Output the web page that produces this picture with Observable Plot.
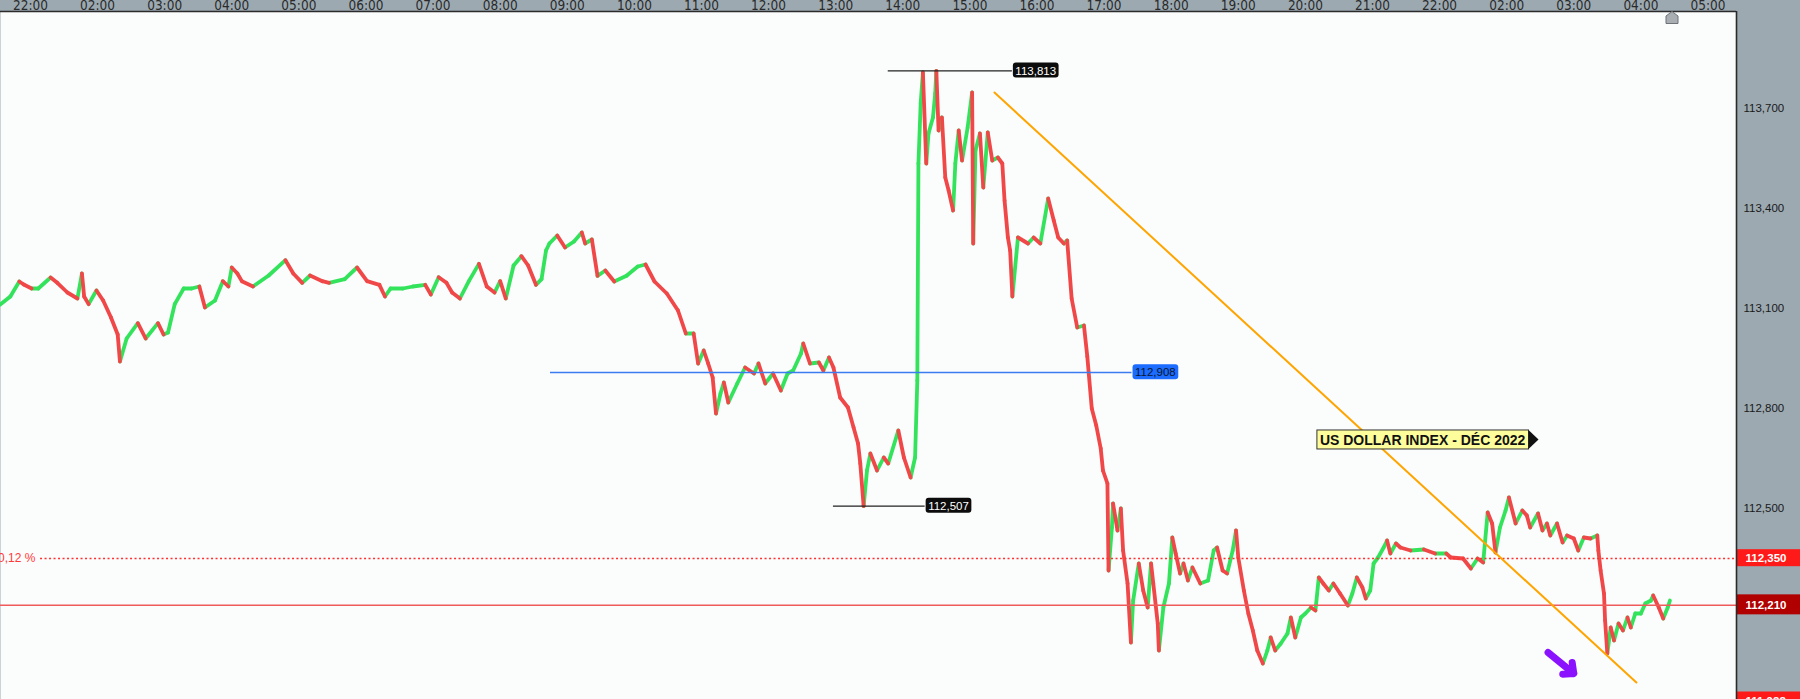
<!DOCTYPE html>
<html><head><meta charset="utf-8">
<script src="https://cdn.jsdelivr.net/npm/d3@7"></script>
<script src="https://cdn.jsdelivr.net/npm/@observablehq/plot@0.6"></script>
<style>
html,body{margin:0;padding:0;background:#9ca9b1;overflow:hidden}
#chart svg{display:block}
</style></head><body><div id="chart"></div>
<script>
// ---- data (session minutes from the 22:00 tick, price) ----
const minutes = [-27,-18,-10,-6,1,7,18,24,33,42,46,48,52,59,65,72,78,80,86,96,103,114,119,123,129,137,144,151,156,165,172,177,180,185,189,199,213,228,235,243,250,261,267,281,292,301,312,317,322,333,342,353,358,365,372,377,384,392,401,408,415,420,425,432,439,445,452,457,461,464,471,478,486,493,496,502,507,514,522,533,543,550,558,569,579,586,593,597,602,606,610,613,617,620,624,632,639,647,651,657,664,671,677,682,689,691,697,705,709,714,718,724,731,736,740,742,745,748,751,757,763,767,776,781,787,791,793,794,796,798,801,803,807,809,810,812,815,818,821,825,827,830,833,838,842,843,845,849,852,856,860,865,869,871,874,876,878,883,892,897,903,910,915,919,924,927,931,936,942,945,949,953,957,959,963,964,967,968,972,975,977,981,984,986,991,995,999,1002,1004,1008,1009,1013,1018,1021,1024,1028,1031,1035,1039,1046,1053,1058,1061,1066,1070,1075,1078,1080,1085,1089,1093,1097,1102,1106,1109,1113,1118,1124,1127,1131,1136,1140,1145,1149,1152,1156,1161,1165,1171,1178,1182,1186,1191,1194,1198,1201,1205,1210,1213,1216,1221,1225,1234,1246,1256,1266,1270,1281,1288,1294,1299,1303,1307,1310,1314,1319,1322,1328,1334,1338,1341,1348,1352,1356,1359,1365,1370,1374,1380,1384,1389,1395,1401,1402,1404,1407,1408,1410,1413,1416,1420,1424,1428,1431,1435,1440,1444,1449,1451,1456,1460,1464,1466];
const prices = [113.112,113.136,113.181,113.172,113.160,113.160,113.193,113.177,113.148,113.130,113.205,113.136,113.113,113.154,113.124,113.073,113.022,112.941,113.010,113.056,113.010,113.056,113.022,113.028,113.113,113.160,113.160,113.166,113.103,113.124,113.182,113.166,113.223,113.205,113.182,113.166,113.199,113.245,113.205,113.177,113.199,113.182,113.177,113.188,113.223,113.182,113.171,113.136,113.160,113.160,113.166,113.171,113.142,113.194,113.177,113.148,113.130,113.182,113.234,113.166,113.148,113.182,113.130,113.229,113.257,113.229,113.171,113.188,113.274,113.295,113.319,113.283,113.301,113.328,113.295,113.307,113.198,113.214,113.181,113.198,113.226,113.232,113.181,113.145,113.094,113.025,113.025,112.935,112.974,112.935,112.893,112.785,112.845,112.878,112.818,112.875,112.923,112.905,112.935,112.875,112.905,112.854,112.905,112.914,112.965,112.995,112.935,112.938,112.914,112.953,112.923,112.833,112.803,112.743,112.695,112.635,112.507,112.614,112.665,112.614,112.653,112.635,112.734,112.653,112.593,112.653,112.884,113.535,113.715,113.808,113.535,113.625,113.673,113.745,113.813,113.634,113.673,113.493,113.454,113.394,113.535,113.634,113.544,113.643,113.748,113.295,113.574,113.625,113.463,113.628,113.544,113.553,113.535,113.424,113.313,113.274,113.136,113.313,113.295,113.313,113.295,113.430,113.364,113.313,113.295,113.304,113.130,113.043,113.049,112.956,112.800,112.749,112.680,112.614,112.575,112.314,112.443,112.515,112.434,112.500,112.374,112.275,112.098,112.224,112.335,112.254,112.203,112.335,112.275,112.155,112.074,112.203,112.275,112.413,112.365,112.305,112.335,112.284,112.323,112.275,112.284,112.374,112.383,112.314,112.305,112.374,112.434,112.353,112.254,112.185,112.134,112.074,112.035,112.074,112.113,112.074,112.095,112.125,112.173,112.113,112.173,112.185,112.203,112.194,112.293,112.275,112.254,112.275,112.245,112.209,112.245,112.293,112.263,112.230,112.254,112.335,112.353,112.383,112.404,112.365,112.395,112.383,112.374,112.377,112.365,112.365,112.353,112.350,112.320,112.350,112.338,112.488,112.455,112.368,112.443,112.494,112.533,112.455,112.494,112.479,112.443,112.485,112.434,112.455,112.419,112.455,112.398,112.419,112.410,112.374,112.413,112.410,112.419,112.374,112.314,112.245,112.164,112.065,112.143,112.104,112.155,112.134,112.173,112.143,112.185,112.185,112.215,112.224,112.239,112.203,112.170,112.203,112.224];

const tickMinutes = [0,60,120,180,240,300,360,420,480,540,600,660,720,780,840,900,960,1020,1080,1140,1200,1260,1320,1380,1440,1500];
const tickLabels = ["22:00","02:00","03:00","04:00","05:00","06:00","07:00","08:00","09:00","10:00","11:00","12:00","13:00","14:00","15:00","16:00","17:00","18:00","19:00","20:00","21:00","22:00","02:00","03:00","04:00","05:00"];
const axisTicks = [113.7, 113.4, 113.1, 112.8, 112.5];

// marked levels: high, pivot, low
const levelValues = [113.813, 112.908, 112.507];
const levelStart = [767, 465, 718];
const levelEnd = [878, 985, 800];

// previous close (dotted) and last price (solid)
const prevClose = 112.350;
const lastPrice = 112.210;
const sessionLow = 111.923;
const changeLabel = "0,12 %";
const changeStart = 9;

// trend line
const trendMinutes = [862, 1436];
const trendPrices = [113.748, 111.978];

// annotation
const titleText = "US DOLLAR INDEX - DÉC 2022";
const titleAt = {m: 1153, v: 112.704};
const arrowFrom = {m: 1357, v: 112.068};
const arrowTo = {m: 1380, v: 112.005};

// ---- build ----
const fmt = d => d.toFixed(3).replace(".", ",");
const GREEN = "#34e35c", RED = "#f04848";
const segs = d3.pairs(d3.zip(minutes, prices)).map(([[m0, v0], [m1, v1]]) => ({m0, m1, v0, v1, up: v1 >= v0}));
const levels = levelValues.map((v, i) => ({v, m0: levelStart[i], m1: levelEnd[i], label: fmt(v)}));
const trend = trendMinutes.map((m, i) => ({m, v: trendPrices[i]}));
const ticks = tickMinutes.map((m, i) => ({m, label: tickLabels[i]}));

const narrow = "'Liberation Sans Narrow','DejaVu Sans Condensed','Arial Narrow',sans-serif";
const XMAX = 1525.5;

const chart = Plot.plot({
  width: 1800, height: 699,
  marginTop: 11, marginRight: 64, marginBottom: 0, marginLeft: 0,
  x: {domain: [-26.8, XMAX], axis: null},
  y: {domain: [111.927, 113.991], axis: null},
  style: {background: "#9ca9b1", fontFamily: "'Liberation Sans',Arial,sans-serif", overflow: "visible"},
  marks: [
    Plot.frame({fill: "#fbfcfc", stroke: null}),
    // price path, coloured by direction
    Plot.link(segs.filter(d => d.up), {x1: "m0", x2: "m1", y1: "v0", y2: "v1", stroke: GREEN, strokeWidth: 3.8, strokeLinecap: "round"}),
    Plot.link(segs.filter(d => !d.up), {x1: "m0", x2: "m1", y1: "v0", y2: "v1", stroke: RED, strokeWidth: 3.8, strokeLinecap: "round"}),
    // level lines
    Plot.ruleY([prevClose], {x1: changeStart, x2: XMAX, stroke: "#ff3030", strokeWidth: 1.3, strokeDasharray: "2,2.5"}),
    Plot.ruleY([lastPrice], {stroke: "#ef5b5b", strokeWidth: 1.5}),
    Plot.ruleY([levels[0], levels[2]], {y: "v", x1: "m0", x2: "m1", stroke: "#222", strokeWidth: 1.2}),
    Plot.ruleY([levels[1]], {y: "v", x1: "m0", x2: "m1", stroke: "#3b7cf0", strokeWidth: 1.5}),
    // trend line
    Plot.line(trend, {x: "m", y: "v", stroke: "#ffa500", strokeWidth: 2}),
    // arrow
    Plot.arrow([0], {x1: () => arrowFrom.m, y1: () => arrowFrom.v, x2: () => arrowTo.m, y2: () => arrowTo.v, stroke: "#8a12ff", strokeWidth: 7, headLength: 12, headAngle: 85}),
    // tags on level lines
    Plot.text([levels[0], levels[2]], {x: "m1", y: "v", text: "label", textAnchor: "start", dx: 3, fill: "white", fontSize: 11.5}),
    Plot.text([levels[1]], {x: "m1", y: "v", text: "label", textAnchor: "start", dx: 3, fill: "#0a1630", fontSize: 11.5}),
    // change label
    Plot.text([prevClose], {x: () => -29, y: d => d, text: () => changeLabel, textAnchor: "start", fill: "#ff3a3a", fontSize: 12}),
    // title annotation
    Plot.text([titleAt], {x: "m", y: "v", text: () => titleText, textAnchor: "start", fontWeight: "bold", fontSize: 14, fill: "#111"}),
    // axes
    Plot.text(ticks, {x: "m", text: "label", frameAnchor: "top", dy: -2, lineAnchor: "bottom", fontSize: 13.5, fill: "#2a2a2a", fontFamily: narrow}),
    Plot.text(axisTicks, {y: d => d, text: fmt, frameAnchor: "right", dx: 7, textAnchor: "start", fontSize: 11.5, fill: "#1a1a1a"}),
    Plot.text([prevClose, lastPrice, sessionLow], {y: d => d, text: fmt, frameAnchor: "right", dx: 9, textAnchor: "start", fontSize: 11.5, fontWeight: "bold", fill: "white"}),
    // borders
    Plot.ruleY([113.991], {stroke: "#2b2b2b", strokeWidth: 1.6}),
    Plot.ruleX([XMAX], {stroke: "#2b2b2b", strokeWidth: 1.6})
  ]
});
document.getElementById("chart").appendChild(chart);

// ---- label boxes, matched by their text ----
const NS = "http://www.w3.org/2000/svg";
const svgBox = chart.getBoundingClientRect();
const boxStyles = new Map([
  [fmt(levelValues[0]), {px: 2.5, h: 15, rx: 3, fill: "#0c0c0c"}],
  [fmt(levelValues[2]), {px: 2.5, h: 15, rx: 3, fill: "#0c0c0c"}],
  [fmt(levelValues[1]), {px: 2.5, h: 15, rx: 3, fill: "#1c6cff"}],
  [titleText, {px: 3, h: 19, fill: "#fdfd9c", stroke: "#333", arrow: true}],
  [fmt(prevClose), {full: [1737, 63], h: 17, fill: "#ff1a1a"}],
  [fmt(sessionLow), {full: [1737, 63], h: 17, fill: "#ff1a1a"}],
  [fmt(lastPrice), {full: [1737, 63], h: 20, fill: "#b00000"}]
]);
chart.querySelectorAll("text").forEach(t => {
  const style = boxStyles.get(t.textContent.trim());
  if (!style) return;
  const b = t.getBoundingClientRect();
  const x = b.left - svgBox.left, y = b.top - svgBox.top;
  const bx = style.full ? style.full[0] : x - style.px;
  const bw = style.full ? style.full[1] : b.width + 2 * style.px;
  const cy = y + b.height / 2 - 0.5;
  const bh = style.h;
  const r = document.createElementNS(NS, "rect");
  r.setAttribute("x", bx); r.setAttribute("y", cy - bh / 2);
  r.setAttribute("width", bw); r.setAttribute("height", bh);
  r.setAttribute("rx", style.rx || 0);
  r.setAttribute("fill", style.fill);
  if (style.stroke) { r.setAttribute("stroke", style.stroke); r.setAttribute("stroke-width", 1); }
  const g = t.parentNode;
  g.parentNode.insertBefore(r, g);
  if (style.arrow) {
    const p = document.createElementNS(NS, "path");
    const ax = bx + bw;
    p.setAttribute("d", `M${ax},${cy - bh / 2}L${ax + 10},${cy}L${ax},${cy + bh / 2}Z`);
    p.setAttribute("fill", "#111");
    g.parentNode.insertBefore(p, g);
  }
});

// small scroll marker (top right)
const mk = document.createElementNS(NS, "path");
mk.setAttribute("d", "M1666,23.5L1666,16L1672,11.5L1678,16L1678,23.5Z");
mk.setAttribute("fill", "#a9aeb2"); mk.setAttribute("stroke", "#6d7377");
chart.appendChild(mk);
</script></body></html>
